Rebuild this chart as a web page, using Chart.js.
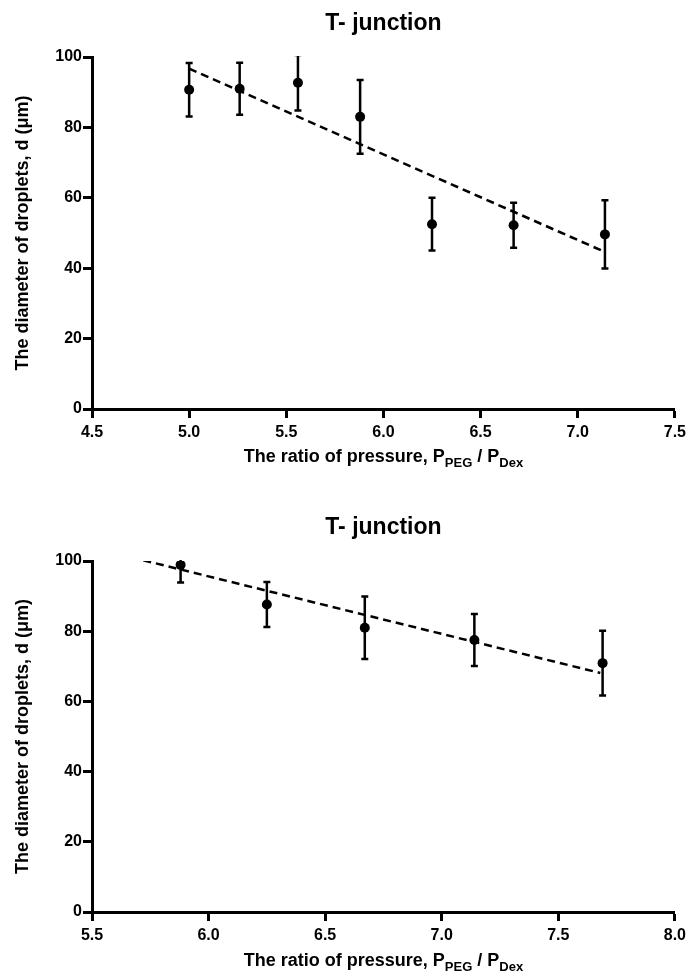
<!DOCTYPE html>
<html>
<head>
<meta charset="utf-8">
<script src="https://cdn.jsdelivr.net/npm/chart.js@4.4.1/dist/chart.umd.min.js"></script>
<style>
    html, body { margin: 0; padding: 0; background: #fff; }
    canvas { display: block; }
</style>
</head>
<body>
<canvas id="chartTop" width="691" height="488"></canvas>
<canvas id="chartBottom" width="691" height="489"></canvas>
<script>
const FONT = "'Liberation Sans', Arial, Helvetica, sans-serif";
const TITLE = 'T- junction';
const Y_TITLE = 'The diameter of droplets, d (μm)';
const X_TITLE_PARTS = [
    ['The ratio of pressure, P', false],
    ['PEG', true],
    [' / P', false],
    ['Dex', true]
];

const yTicks = [0, 20, 40, 60, 80, 100];

// top panel
const topXTicks = [4.5, 5.0, 5.5, 6.0, 6.5, 7.0, 7.5];
const topRatio = [5.0, 5.26, 5.56, 5.88, 6.25, 6.67, 7.14];
const topDiameter = [90.7, 91.0, 92.7, 83.0, 52.5, 52.2, 49.6];
const topError = [7.6, 7.4, 7.9, 10.5, 7.5, 6.4, 9.7];
const topFitRatio = [5.0, 7.14];
const topFitDiameter = [96.7, 44.6];

// bottom panel
const bottomXTicks = [5.5, 6.0, 6.5, 7.0, 7.5, 8.0];
const bottomRatio = [5.88, 6.25, 6.67, 7.14, 7.69];
const bottomDiameter = [98.9, 87.6, 81.0, 77.5, 70.9];
const bottomError = [5.0, 6.4, 8.9, 7.4, 9.2];
const bottomFitRatio = [5.72, 7.68];
const bottomFitDiameter = [100.2, 68.1];

const errorBarsPlugin = {
    id: 'errorBars',
    beforeDatasetsDraw(chart) {
        const ctx = chart.ctx;
        const area = chart.chartArea;
        const xScale = chart.scales.x;
        const yScale = chart.scales.y;

        ctx.save();
        ctx.beginPath();
        ctx.rect(area.left, area.top - 1, area.right - area.left, area.bottom - area.top + 1);
        ctx.clip();
        ctx.strokeStyle = '#000';
        ctx.lineWidth = 2.5;

        chart.data.datasets.forEach(ds => {
            if (!ds.errors) return;
            ds.data.forEach((p, i) => {
                const x = xScale.getPixelForValue(p.x);
                const yHi = yScale.getPixelForValue(p.y + ds.errors[i]);
                const yLo = yScale.getPixelForValue(p.y - ds.errors[i]);
                const cap = 3.5;
                ctx.beginPath();
                ctx.moveTo(x, yHi);
                ctx.lineTo(x, yLo);
                ctx.moveTo(x - cap, yHi);
                ctx.lineTo(x + cap, yHi);
                ctx.moveTo(x - cap, yLo);
                ctx.lineTo(x + cap, yLo);
                ctx.stroke();
            });
        });
        ctx.restore();
    }
};

const textPlugin = {
    id: 'panelText',
    afterDraw(chart, args, opts) {
        const ctx = chart.ctx;
        const area = chart.chartArea;
        const cx = (area.left + area.right) / 2;

        ctx.save();
        ctx.fillStyle = '#000';
        ctx.textBaseline = 'middle';

        // title
        ctx.font = `bold 23px ${FONT}`;
        ctx.textAlign = 'center';
        ctx.fillText(TITLE, cx, opts.titleY);

        // y axis title
        ctx.font = `bold 18px ${FONT}`;
        ctx.save();
        ctx.translate(23, (area.top + area.bottom) / 2);
        ctx.rotate(-Math.PI / 2);
        ctx.fillText(Y_TITLE, 0, 0);
        ctx.restore();

        // x axis title with subscripts
        const mainFont = `bold 18px ${FONT}`;
        const subFont = `bold 13px ${FONT}`;
        let total = 0;
        X_TITLE_PARTS.forEach(([txt, sub]) => {
            ctx.font = sub ? subFont : mainFont;
            total += ctx.measureText(txt).width;
        });
        let x = cx - total / 2;
        ctx.textAlign = 'left';
        X_TITLE_PARTS.forEach(([txt, sub]) => {
            ctx.font = sub ? subFont : mainFont;
            ctx.fillText(txt, x, opts.xTitleY + (sub ? 6 : 0));
            x += ctx.measureText(txt).width;
        });
        ctx.restore();
    }
};

function makeChart(id, cfg) {
    const ctx = document.getElementById(id).getContext('2d');
    const points = cfg.ratio.map((r, i) => ({ x: r, y: cfg.diameter[i] }));
    const fit = cfg.fitRatio.map((r, i) => ({ x: r, y: cfg.fitDiameter[i] }));

    return new Chart(ctx, {
        type: 'scatter',
        data: {
            datasets: [
                {
                    data: points,
                    errors: cfg.errors,
                    pointRadius: 5,
                    pointHoverRadius: 5,
                    pointBackgroundColor: '#000',
                    pointBorderColor: '#000',
                    pointBorderWidth: 0,
                    order: 1
                },
                {
                    type: 'line',
                    data: fit,
                    borderColor: '#000',
                    borderWidth: 2.5,
                    borderDash: [8, 5],
                    pointRadius: 0,
                    fill: false,
                    order: 2
                }
            ]
        },
        options: {
            responsive: false,
            animation: false,
            layout: {
                padding: { left: 0, right: 14, top: cfg.padTop, bottom: 0 }
            },
            plugins: {
                legend: { display: false },
                tooltip: { enabled: false },
                panelText: { titleY: cfg.titleY, xTitleY: cfg.xTitleY }
            },
            scales: {
                x: {
                    type: 'linear',
                    min: cfg.xTicks[0],
                    max: cfg.xTicks[cfg.xTicks.length - 1],
                    afterBuildTicks: scale => {
                        scale.ticks = cfg.xTicks.map(v => ({ value: v }));
                    },
                    afterFit: scale => { scale.height = cfg.xHeight; },
                    border: { display: true, width: 3, color: '#000' },
                    grid: {
                        drawOnChartArea: false,
                        drawTicks: true,
                        tickLength: 9,
                        tickWidth: 3,
                        tickColor: '#000'
                    },
                    ticks: {
                        color: '#000',
                        padding: 5,
                        maxRotation: 0,
                        font: { family: FONT, size: 16, weight: 'bold' },
                        callback: v => v.toFixed(1)
                    }
                },
                y: {
                    type: 'linear',
                    min: 0,
                    max: 100,
                    afterBuildTicks: scale => {
                        scale.ticks = yTicks.map(v => ({ value: v }));
                    },
                    afterFit: scale => { scale.width = 92; },
                    border: { display: true, width: 3, color: '#000' },
                    grid: {
                        drawOnChartArea: false,
                        drawTicks: true,
                        tickLength: 9,
                        tickWidth: 3,
                        tickColor: '#000'
                    },
                    ticks: {
                        color: '#000',
                        padding: 1,
                        font: { family: FONT, size: 16, weight: 'bold' }
                    }
                }
            }
        },
        plugins: [errorBarsPlugin, textPlugin]
    });
}

makeChart('chartTop', {
    ratio: topRatio,
    diameter: topDiameter,
    errors: topError,
    fitRatio: topFitRatio,
    fitDiameter: topFitDiameter,
    xTicks: topXTicks,
    padTop: 57,
    xHeight: 79,
    titleY: 24,
    xTitleY: 457
});

makeChart('chartBottom', {
    ratio: bottomRatio,
    diameter: bottomDiameter,
    errors: bottomError,
    fitRatio: bottomFitRatio,
    fitDiameter: bottomFitDiameter,
    xTicks: bottomXTicks,
    padTop: 73,
    xHeight: 65,
    titleY: 40,
    xTitleY: 473
});
</script>
</body>
</html>
